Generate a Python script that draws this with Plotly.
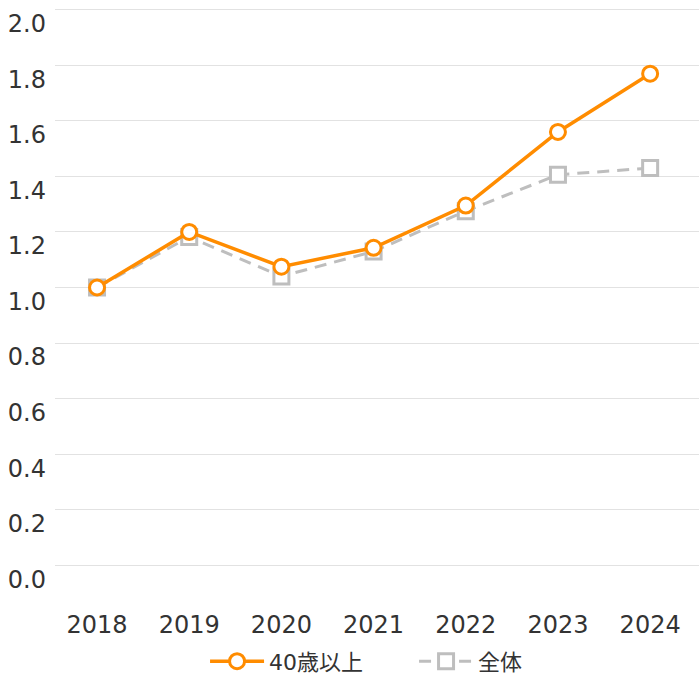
import plotly.graph_objects as go

years = ["2018", "2019", "2020", "2021", "2022", "2023", "2024"]
over40 = [1.00, 1.20, 1.075, 1.143, 1.295, 1.56, 1.77]
overall = [1.00, 1.182, 1.04, 1.13, 1.275, 1.406, 1.43]
y_ticks = [0.0, 0.2, 0.4, 0.6, 0.8, 1.0, 1.2, 1.4, 1.6, 1.8, 2.0]

ORANGE = "#FF8C00"
GRAY = "#BEBEBE"
FONT = "DejaVu Sans, Noto Sans CJK JP, sans-serif"

fig = go.Figure()
fig.add_trace(go.Scatter(
    x=years, y=overall, name="全体", mode="lines+markers",
    line=dict(color=GRAY, width=3, dash="12px,8px"),
    marker=dict(symbol="square", size=15, color="white",
                line=dict(color=GRAY, width=3)),
))
fig.add_trace(go.Scatter(
    x=years, y=over40, name="40歳以上", mode="lines+markers",
    line=dict(color=ORANGE, width=3.5),
    marker=dict(symbol="circle", size=15, color="white",
                line=dict(color=ORANGE, width=3)),
))

fig.update_layout(
    width=699, height=684,
    margin=dict(l=55, r=0, t=7, b=116),
    paper_bgcolor="white", plot_bgcolor="white",
    font=dict(family=FONT, color="#333333"),
    showlegend=True,
    legend=dict(orientation="h", x=0.233, xanchor="left", y=-0.129, yanchor="top",
                traceorder="reversed", font=dict(size=22, family=FONT, color="#333333"),
                itemwidth=54, entrywidth=140, entrywidthmode="pixels"),
    xaxis=dict(type="category", range=[-0.456, 6.53], showgrid=False, showline=False,
               zeroline=False, tickfont=dict(size=24), ticklabelstandoff=40,
               automargin=False),
    yaxis=dict(range=[-0.01, 2.01], tickvals=y_ticks, ticktext=[f"{v:.1f}" for v in y_ticks],
               showgrid=True, gridcolor="#E2E2E2", gridwidth=1, zeroline=False,
               showline=False, tickfont=dict(size=24), ticklabelshift=14,
               ticklabelstandoff=8, automargin=False),
)

fig.write_html("out.html", config={"displayModeBar": False},
               post_script="document.body.style.margin='0';document.body.style.overflow='hidden';")
